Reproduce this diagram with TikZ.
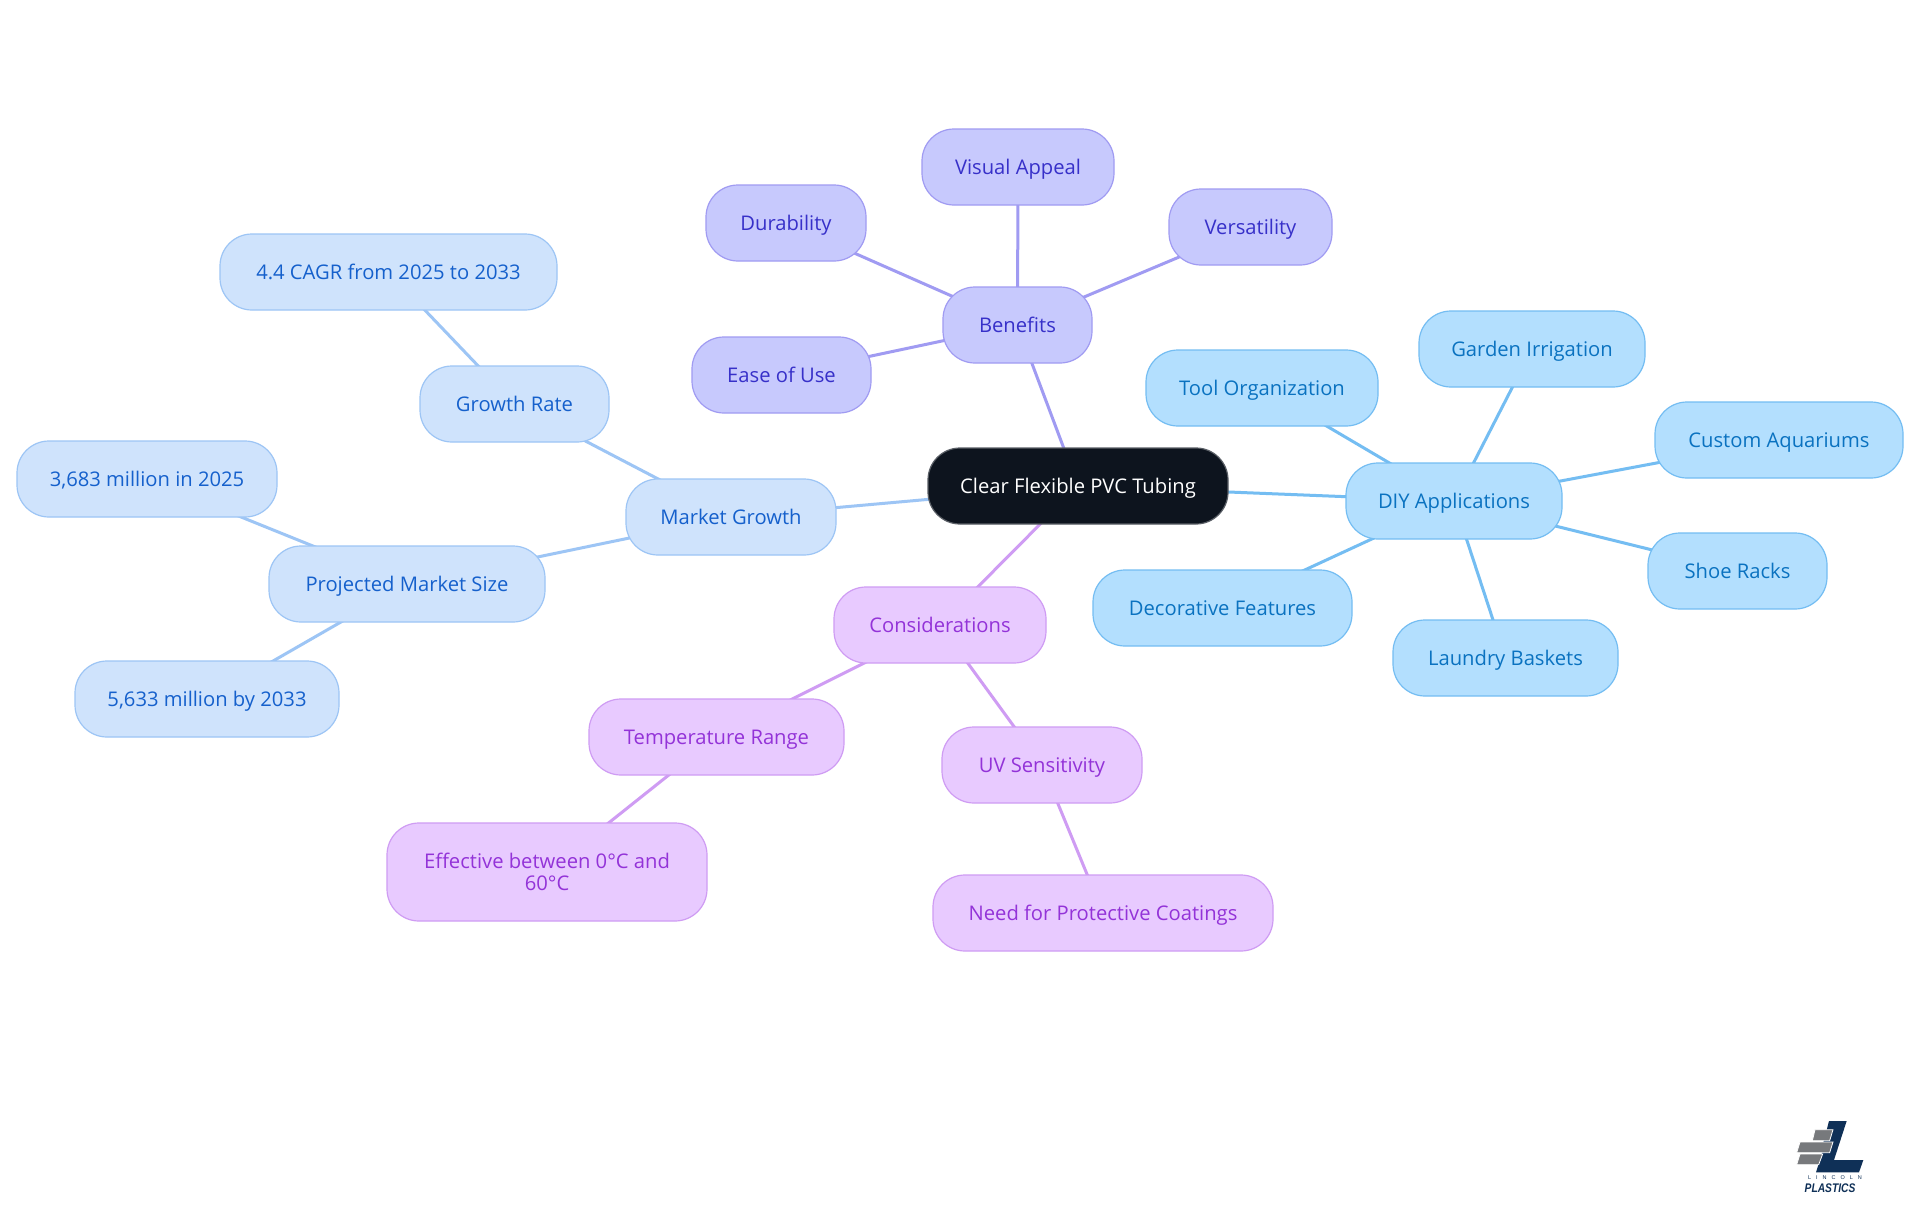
\documentclass[tikz,border=0pt]{standalone}
\usepackage{fontspec}
\setmainfont{Open Sans}
\newfontfamily\logofont{Liberation Sans}
\usetikzlibrary{backgrounds}
\definecolor{rootfill}{HTML}{0D141E}
\definecolor{rootline}{HTML}{5A5F66}
\definecolor{befill}{HTML}{C7C9FD}
\definecolor{beline}{HTML}{A09BF2}
\definecolor{betext}{HTML}{3730C9}
\definecolor{mafill}{HTML}{CFE3FC}
\definecolor{maline}{HTML}{9DC5F5}
\definecolor{matext}{HTML}{1560CC}
\definecolor{difill}{HTML}{B3DFFE}
\definecolor{diline}{HTML}{74BDF2}
\definecolor{ditext}{HTML}{0A72C0}
\definecolor{cofill}{HTML}{E8CAFF}
\definecolor{coline}{HTML}{CF9CF3}
\definecolor{cotext}{HTML}{9333D8}
\definecolor{logonavy}{HTML}{0F3057}
\definecolor{logogrey}{HTML}{77797C}
\tikzset{
  mind/.style={rectangle,rounded corners=32pt,line width=1.2pt,inner sep=0pt,align=center,
    minimum height=76pt,font=\fontsize{20.2}{22}\selectfont},
  oneline/.style={text height=20pt,text depth=5pt},
  rootnode/.style={mind,oneline,fill=rootfill,draw=rootline,text=white},
  benode/.style={mind,oneline,fill=befill,draw=beline,text=betext},
  manode/.style={mind,oneline,fill=mafill,draw=maline,text=matext},
  dinode/.style={mind,oneline,fill=difill,draw=diline,text=ditext},
  conode/.style={mind,oneline,fill=cofill,draw=coline,text=cotext},
  cotwo/.style={mind,fill=cofill,draw=coline,text=cotext},
  belink/.style={draw=beline,line width=3pt},
  malink/.style={draw=maline,line width=3pt},
  dilink/.style={draw=diline,line width=3pt},
  colink/.style={draw=coline,line width=3pt}
}
\begin{document}
\begin{tikzpicture}[x=1pt,y=-1pt]
\useasboundingbox (0,0) rectangle (1920,1215);
\node[rootnode,minimum width=300pt] (root) at (1078,486) {Clear Flexible PVC Tubing};
\node[benode,minimum width=149pt] (ben) at (1017.5,325) {Benefits};
\node[benode,minimum width=192pt] (vis) at (1018,167) {Visual Appeal};
\node[benode,minimum width=160pt] (dur) at (786,223) {Durability};
\node[benode,minimum width=163pt] (ver) at (1250.5,227) {Versatility};
\node[benode,minimum width=179pt] (eas) at (781.5,375) {Ease of Use};
\node[dinode,minimum width=216pt] (diy) at (1454,501) {DIY Applications};
\node[dinode,minimum width=232pt] (too) at (1262,388) {Tool Organization};
\node[dinode,minimum width=226pt] (gar) at (1532,349) {Garden Irrigation};
\node[dinode,minimum width=248pt] (cus) at (1779,440) {Custom Aquariums};
\node[dinode,minimum width=179pt] (sho) at (1737.5,571) {Shoe Racks};
\node[dinode,minimum width=225pt] (lau) at (1505.5,658) {Laundry Baskets};
\node[dinode,minimum width=259pt] (dec) at (1222.5,608) {Decorative Features};
\node[manode,minimum width=210pt] (mar) at (731,517) {Market Growth};
\node[manode,minimum width=189pt] (gro) at (514.5,404) {Growth Rate};
\node[manode,minimum width=337pt] (cag) at (388.5,272) {4.4 CAGR from 2025 to 2033};
\node[manode,minimum width=276pt] (pro) at (407,584) {Projected Market Size};
\node[manode,minimum width=260pt] (m25) at (147,479) {3,683 million in 2025};
\node[manode,minimum width=264pt] (m33) at (207,699) {5,633 million by 2033};
\node[conode,minimum width=212pt] (con) at (940,625) {Considerations};
\node[conode,minimum width=255pt] (tem) at (716.5,737) {Temperature Range};
\node[cotwo,minimum width=320pt,minimum height=98pt] (eff) at (547,872) {Effective between 0°C and\\60°C};
\node[conode,minimum width=200pt] (uvs) at (1042,765) {UV Sensitivity};
\node[conode,minimum width=340pt] (nee) at (1103,913) {Need for Protective Coatings};
\begin{scope}[on background layer]
\fill[white] (0,0) rectangle (1920,1215);
\draw[belink] (root.center) -- (ben.center);
\draw[belink] (ben.center) -- (vis.center);
\draw[belink] (ben.center) -- (dur.center);
\draw[belink] (ben.center) -- (ver.center);
\draw[belink] (ben.center) -- (eas.center);
\draw[dilink] (root.center) -- (diy.center);
\draw[dilink] (diy.center) -- (too.center);
\draw[dilink] (diy.center) -- (gar.center);
\draw[dilink] (diy.center) -- (cus.center);
\draw[dilink] (diy.center) -- (sho.center);
\draw[dilink] (diy.center) -- (lau.center);
\draw[dilink] (diy.center) -- (dec.center);
\draw[malink] (root.center) -- (mar.center);
\draw[malink] (mar.center) -- (gro.center);
\draw[malink] (gro.center) -- (cag.center);
\draw[malink] (mar.center) -- (pro.center);
\draw[malink] (pro.center) -- (m25.center);
\draw[malink] (pro.center) -- (m33.center);
\draw[colink] (root.center) -- (con.center);
\draw[colink] (con.center) -- (tem.center);
\draw[colink] (tem.center) -- (eff.center);
\draw[colink] (con.center) -- (uvs.center);
\draw[colink] (uvs.center) -- (nee.center);
\end{scope}
% logo
\begin{scope}[shift={(1760,1095)},x=0.3333pt,y=-0.3333pt]
\fill[logonavy] (207,78) -- (260,78) -- (222,195) -- (310,195) -- (297,232) -- (168,232) -- (185,178) -- (190,142) -- (200,105) -- cycle;
\fill[logogrey,draw=white,line width=0.8pt] (165,104) -- (219,104) -- (209,137) -- (157,137) -- cycle;
\fill[logogrey,draw=white,line width=0.8pt] (120,141) -- (219,141) -- (209,173) -- (110,173) -- cycle;
\fill[logogrey,draw=white,line width=0.8pt] (120,177) -- (188,177) -- (176,209) -- (110,209) -- cycle;
\node[text=logonavy,inner sep=0pt,font=\logofont\fontsize{5.5}{6}\selectfont\addfontfeature{LetterSpace=90}] (lin) at (225,249) {LINCOLN};
\node[text=logonavy,inner sep=0pt,font=\logofont\bfseries\itshape\fontsize{12.5}{13}\selectfont] (pla) at (210,281) {\scalebox{0.82}[1]{PLASTICS}};
\end{scope}
\end{tikzpicture}
\end{document}
